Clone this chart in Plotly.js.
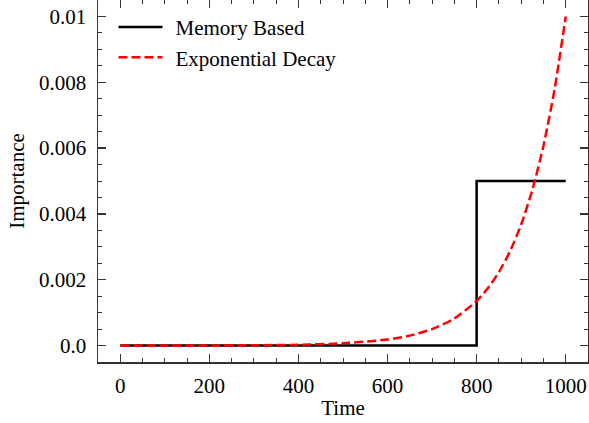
<!DOCTYPE html>
<html>
<head>
<meta charset="utf-8">
<script src="https://cdn.plot.ly/plotly-3.0.1.min.js"></script>
<style>html,body{margin:0;padding:0;background:#fff;}#chart{width:589px;height:423px;}</style>
</head>
<body>
<div id="chart"></div>
<script>
var memoryTime = [0, 800, 1000];
var memoryImportance = [0, 0.005, 0.005];

var decayTime = [0, 100, 200, 300, 400, 500, 600, 650, 700, 750, 800, 825, 850, 875, 900, 925, 950, 975, 1000];
var decayImportance = [0.00000045, 0.0000012, 0.0000034, 0.0000091, 0.0000248, 0.0000674, 0.000183, 0.000302, 0.000498, 0.000821, 0.001353, 0.001738, 0.002231, 0.002865, 0.003679, 0.004724, 0.006065, 0.007788, 0.01];

var xTickVals = [0, 200, 400, 600, 800, 1000];
var xTickText = ['0', '200', '400', '600', '800', '1000'];
var yTickVals = [0, 0.002, 0.004, 0.006, 0.008, 0.01];
var yTickText = ['0.0', '0.002', '0.004', '0.006', '0.008', '0.01'];

var font = 'Liberation Serif, Times New Roman, serif';
var fs = 21;

var traces = [
  {x: memoryTime, y: memoryImportance, type: 'scatter', mode: 'lines', name: 'Memory Based',
   legendgroup: 'a',
   line: {color: '#000000', width: 2.5, shape: 'hv'}},
  {x: decayTime, y: decayImportance, type: 'scatter', mode: 'lines', name: 'Exponential Decay',
   legendgroup: 'b',
   line: {color: '#ff0000', width: 2.5, dash: '9px,4px', shape: 'spline', smoothing: 0.6}}
];

var axisCommon = {
  showline: true, linecolor: '#333333', linewidth: 1.5, mirror: 'allticks',
  ticks: 'inside', ticklen: 8, tickwidth: 1.2, tickcolor: '#333333',
  showgrid: false, zeroline: false,
  tickfont: {family: font, size: fs, color: '#000'}
};

var layout = {
  width: 589, height: 423,
  margin: {l: 98, r: 1, t: 0, b: 61},
  paper_bgcolor: '#ffffff', plot_bgcolor: '#ffffff',
  font: {family: font, size: fs, color: '#000'},
  showlegend: true,
  legend: {x: 0.0316, y: 0.981, xanchor: 'left', yanchor: 'top', bgcolor: 'rgba(0,0,0,0)',
           font: {family: font, size: fs, color: '#000'}, traceorder: 'grouped', tracegroupgap: 0, itemwidth: 52},
  xaxis: Object.assign({}, axisCommon, {
    range: [-50, 1050], tickvals: xTickVals, ticktext: xTickText,
    minor: {dtick: 50, ticks: 'inside', ticklen: 4, tickwidth: 1, tickcolor: '#333333'},
    ticklabelstandoff: 4,
    title: {text: 'Time', font: {family: font, size: fs, color: '#000'}, standoff: 3}
  }),
  yaxis: Object.assign({}, axisCommon, {
    range: [-0.0005, 0.0105], tickvals: yTickVals, ticktext: yTickText,
    minor: {dtick: 0.0005, tick0: 0, ticks: 'inside', ticklen: 4, tickwidth: 1, tickcolor: '#333333'},
    ticklabelstandoff: 6,
    title: {text: 'Importance', font: {family: font, size: fs, color: '#000'}, standoff: 8}
  })
};

Plotly.newPlot('chart', traces, layout, {staticPlot: true, displayModeBar: false}).then(function (gd) {
  var paths = gd.querySelectorAll('.legend .legendlines path');
  paths.forEach(function (p) { p.setAttribute('d', 'M5,0h44'); });
});
</script>
</body>
</html>
